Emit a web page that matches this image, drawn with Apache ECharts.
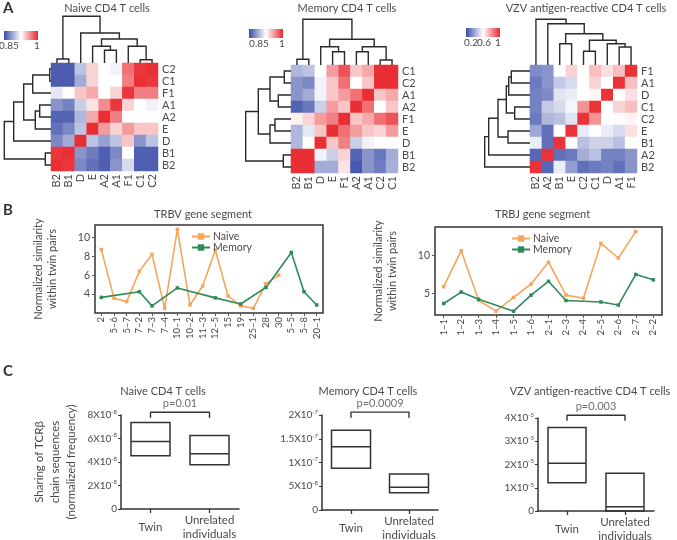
<!DOCTYPE html>
<html>
<head>
<meta charset="utf-8">
<script src="https://cdn.jsdelivr.net/npm/echarts@6/dist/echarts.min.js"></script>
<style>html,body{margin:0;padding:0;background:#fff}#chart{width:677px;height:540px}</style>
</head>
<body>
<div id="chart"></div>
<script>
// ---------- A: correlation heatmaps ----------
var naiveCols = ['B2', 'B1', 'D', 'E', 'A2', 'A1', 'F1', 'C1', 'C2'];
var naiveRows = ['C2', 'C1', 'F1', 'A1', 'A2', 'E', 'D', 'B1', 'B2'];
var naiveValues = [
    [0.857, 0.857, 0.900, 0.940, 0.925, 0.920, 0.975, 0.995, 0.998],
    [0.857, 0.857, 0.890, 0.940, 0.925, 0.925, 0.970, 0.998, 0.995],
    [0.915, 0.925, 0.945, 0.955, 0.925, 0.940, 0.995, 0.970, 0.970],
    [0.880, 0.872, 0.905, 0.935, 0.965, 0.995, 0.940, 0.925, 0.920],
    [0.860, 0.860, 0.895, 0.955, 0.998, 0.970, 0.925, 0.925, 0.925],
    [0.865, 0.875, 0.900, 0.998, 0.960, 0.940, 0.960, 0.945, 0.945],
    [0.875, 0.890, 0.998, 0.900, 0.885, 0.900, 0.945, 0.880, 0.900],
    [0.995, 0.998, 0.880, 0.870, 0.858, 0.875, 0.925, 0.858, 0.858],
    [0.998, 0.995, 0.875, 0.865, 0.858, 0.880, 0.910, 0.858, 0.858]
];
// merges: [childA, childB, height]; children >= 9 are earlier merges
var naiveColTree = [[0, 1, 4], [7, 8, 3.3], [4, 5, 12.7], [3, 11, 16.7], [6, 10, 16.7], [12, 13, 24], [2, 14, 30], [9, 15, 46.7]];
var naiveRowTree = [[0, 1, 1.3], [9, 2, 18.3], [3, 4, 11.3], [11, 5, 15.7], [10, 12, 27.3], [13, 6, 37.3], [7, 8, 5.7], [14, 15, 46.7]];

var memoryCols = ['B2', 'B1', 'D', 'E', 'F1', 'A2', 'A1', 'C2', 'C1'];
var memoryRows = ['C1', 'C2', 'A1', 'A2', 'F1', 'E', 'D', 'B1', 'B2'];
var memoryValues = [
    [0.895, 0.900, 0.925, 0.960, 0.985, 0.945, 0.955, 0.998, 0.998],
    [0.880, 0.875, 0.920, 0.945, 0.975, 0.925, 0.945, 0.998, 0.998],
    [0.880, 0.890, 0.920, 0.945, 0.960, 0.975, 0.998, 0.945, 0.955],
    [0.860, 0.868, 0.905, 0.960, 0.945, 0.998, 0.975, 0.925, 0.945],
    [0.930, 0.940, 0.960, 0.970, 0.998, 0.945, 0.955, 0.975, 0.985],
    [0.895, 0.915, 0.945, 0.998, 0.975, 0.960, 0.945, 0.940, 0.960],
    [0.895, 0.925, 0.998, 0.945, 0.970, 0.905, 0.920, 0.925, 0.925],
    [0.998, 0.998, 0.920, 0.905, 0.940, 0.860, 0.880, 0.868, 0.890],
    [0.998, 0.998, 0.890, 0.890, 0.935, 0.855, 0.880, 0.870, 0.892]
];
var memoryColTree = [[0, 1, 5.7], [3, 4, 13.3], [2, 10, 18.3], [5, 6, 13.3], [7, 8, 5], [12, 13, 18.3], [11, 14, 25.7], [9, 15, 45.7]];
var memoryRowTree = [[0, 1, 6.7], [2, 3, 12.7], [9, 10, 21], [4, 5, 16], [12, 6, 21], [11, 13, 32.7], [7, 8, 7.7], [14, 15, 45.3]];

var vzvCols = ['B2', 'A2', 'B1', 'E', 'C2', 'C1', 'D', 'A1', 'F1'];
var vzvRows = ['F1', 'A1', 'D', 'C1', 'C2', 'E', 'B1', 'A2', 'B2'];
var vzvValues = [
    [0.34, 0.36, 0.60, 0.68, 0.60, 0.72, 0.66, 0.72, 0.98],
    [0.30, 0.36, 0.48, 0.52, 0.60, 0.68, 0.60, 0.98, 0.72],
    [0.32, 0.34, 0.54, 0.56, 0.60, 0.62, 0.98, 0.60, 0.66],
    [0.32, 0.48, 0.52, 0.58, 0.80, 0.98, 0.60, 0.68, 0.72],
    [0.30, 0.44, 0.46, 0.54, 0.98, 0.80, 0.60, 0.61, 0.62],
    [0.40, 0.28, 0.60, 0.98, 0.56, 0.60, 0.56, 0.52, 0.66],
    [0.56, 0.28, 0.98, 0.60, 0.46, 0.50, 0.50, 0.46, 0.60],
    [0.26, 0.98, 0.28, 0.30, 0.42, 0.46, 0.32, 0.32, 0.36],
    [0.98, 0.26, 0.56, 0.38, 0.28, 0.30, 0.32, 0.28, 0.36]
];
var vzvColTree = [[2, 3, 21.3], [4, 5, 13.7], [7, 8, 18], [6, 11, 21.3], [10, 12, 24.7], [9, 13, 31.3], [1, 14, 41.3], [0, 15, 45.7]];
var vzvRowTree = [[0, 1, 18.7], [9, 2, 21.3], [3, 4, 15.3], [10, 11, 23.7], [5, 6, 22], [12, 13, 32], [14, 7, 41.3], [15, 8, 45.3]];

// ---------- B: similarity by gene segment ----------
var trbvGenes = ['2', '5–6', '5–7', '7–2', '7–3', '7–4', '10–1', '10–2', '11–3', '12–5', '15', '19', '25–1', '28', '30', '5–5', '5–8', '20–1'];
var trbvNaive = [8.7, 3.55, 3.2, 6.4, 8.2, 2.5, 10.85, 2.85, 4.85, 8.65, 3.8, 2.75, 2.5, 5.1, 6.0, null, null, null];
var trbvMemory = [3.65, null, null, 4.25, 2.75, null, 4.65, null, null, 3.6, null, 2.95, null, 4.7, null, 8.4, 4.25, 2.85];
var trbvTicks = [4, 6, 8, 10];

var trbjGenes = ['1–1', '1–2', '1–3', '1–4', '1–5', '1–6', '2–1', '2–3', '2–4', '2–5', '2–6', '2–7', '2–2'];
var trbjNaive = [5.9, 10.6, 4.1, 2.7, 4.5, 6.25, 9.1, 4.8, 4.4, 11.55, 9.65, 13.1, null];
var trbjMemory = [3.7, 5.2, 4.25, null, 2.7, 4.8, 6.6, 4.1, null, 3.9, 3.5, 7.5, 6.8];
var trbjTicks = [5, 10];

// ---------- C: TCRb sharing, [q1, median, q3] ----------
var boxGroups = ['Twin', 'Unrelated\nindividuals'];
var naiveShare = [[4.54e-8, 5.75e-8, 7.37e-8], [3.77e-8, 4.7e-8, 6.26e-8]];
var memoryShare = [[0.88e-7, 1.33e-7, 1.68e-7], [0.365e-7, 0.48e-7, 0.76e-7]];
var vzvShare = [[1.22e-5, 2.05e-5, 3.59e-5], [0, 0.18e-5, 1.62e-5]];
var pValues = ['p=0.01', 'p=0.0009', 'p=0.003'];

var FONT = 'Lato, "Open Sans", sans-serif';
var TXT = '#4a4a4a';
var BLUE = '#3a4ca8', RED = '#e8282e';
var ORANGE = '#f5a65b', GREEN = '#2f8a5a';

var grids = [], xAxes = [], yAxes = [], series = [], visualMaps = [], legends = [], graphics = [];

function addGrid(g) {
    g.outerBoundsMode = 'none';
    g.containLabel = false;
    grids.push(g);
    return grids.length - 1;
}

function treeLinks(tree, n) {
    var pos = [], h = [];
    for (var i = 0; i < n; i++) { pos.push(i); h.push(0); }
    return tree.map(function(m) {
        var a = m[0], b = m[1];
        var link = [pos[a], h[a], pos[b], h[b], m[2]];
        pos.push((pos[a] + pos[b]) / 2);
        h.push(m[2]);
        return link;
    });
}

function dendro(tree, n, rect, side) {
    var gi = addGrid(rect);
    var top = side === 'top';
    var xi = xAxes.push({gridIndex: gi, type: 'value', show: false,
        min: top ? -0.5 : 0, max: top ? n - 0.5 : 47, inverse: !top}) - 1;
    var yi = yAxes.push({gridIndex: gi, type: 'value', show: false,
        min: top ? 0 : -0.5, max: top ? 47 : n - 0.5, inverse: !top}) - 1;
    series.push({
        type: 'custom', coordinateSystem: 'cartesian2d', xAxisIndex: xi, yAxisIndex: yi,
        silent: true, clip: false,
        data: treeLinks(tree, n),
        renderItem: function(params, api) {
            var p = function(pos, h) { return top ? api.coord([pos, h]) : api.coord([h, pos]); };
            var hm = api.value(4);
            return {
                type: 'polyline',
                shape: {points: [p(api.value(0), api.value(1)), p(api.value(0), hm), p(api.value(2), hm), p(api.value(2), api.value(3))]},
                style: {stroke: '#2b2b2b', lineWidth: 1.4, fill: null}
            };
        }
    });
}

function heatPanel(cfg) {
    var gi = addGrid({left: cfg.left, top: cfg.top, width: 107, height: 108});
    var xi = xAxes.push({gridIndex: gi, type: 'category', data: cfg.cols, position: 'bottom',
        axisLine: {show: false}, axisTick: {show: false}, splitLine: {show: false},
        axisLabel: {rotate: 90, margin: 3, fontSize: 11, color: TXT, interval: 0}}) - 1;
    var yi = yAxes.push({gridIndex: gi, type: 'category', data: cfg.rows, inverse: true, position: 'right',
        axisLine: {show: false}, axisTick: {show: false}, splitLine: {show: false},
        axisLabel: {margin: 4, fontSize: 11, color: TXT, interval: 0}}) - 1;
    var data = [];
    cfg.values.forEach(function(row, r) {
        row.forEach(function(v, c) { data.push([c, r, v]); });
    });
    var si = series.push({type: 'heatmap', xAxisIndex: xi, yAxisIndex: yi, data: data, silent: true}) - 1;
    visualMaps.push({show: false, seriesIndex: si, dimension: 2, min: cfg.min, max: cfg.max,
        inRange: {color: [BLUE, '#ffffff', RED]}});
    dendro(cfg.colTree, cfg.cols.length, {left: cfg.left, top: cfg.top - 47, width: 107, height: 47}, 'top');
    dendro(cfg.rowTree, cfg.rows.length, {left: cfg.left - 47, top: cfg.top, width: 47, height: 108}, 'left');

    graphics.push({type: 'text', x: cfg.left + 56, y: 8, style: {text: cfg.title, align: 'center',
        verticalAlign: 'middle', font: '11px ' + FONT, fill: TXT}});
    var bar = cfg.bar;
    graphics.push({type: 'rect', shape: {x: bar[0], y: bar[1], width: 34, height: 9},
        style: {fill: new echarts.graphic.LinearGradient(0, 0, 1, 0, [
            {offset: 0, color: BLUE}, {offset: 0.5, color: '#ffffff'}, {offset: 1, color: RED}])}});
    cfg.barLabels.forEach(function(t) {
        graphics.push({type: 'text', x: t[1], y: bar[1] + 15, style: {text: t[0], align: 'center',
            verticalAlign: 'middle', font: '10px ' + FONT, fill: TXT}});
    });
}

heatPanel({title: 'Naive CD4 T cells', left: 51, top: 63, cols: naiveCols, rows: naiveRows, values: naiveValues,
    colTree: naiveColTree, rowTree: naiveRowTree, min: 0.85, max: 1,
    bar: [4, 31], barLabels: [['0.85', 9], ['1', 37]]});
heatPanel({title: 'Memory CD4 T cells', left: 291, top: 65, cols: memoryCols, rows: memoryRows, values: memoryValues,
    colTree: memoryColTree, rowTree: memoryRowTree, min: 0.85, max: 1,
    bar: [249, 29], barLabels: [['0.85', 259], ['1', 282]]});
heatPanel({title: 'VZV antigen-reactive CD4 T cells', left: 530, top: 65, cols: vzvCols, rows: vzvRows, values: vzvValues,
    colTree: vzvColTree, rowTree: vzvRowTree, min: 0.2, max: 1,
    bar: [466, 28], barLabels: [['0.2', 471], ['0.6', 484], ['1', 498]]});

function linePanel(cfg) {
    var gi = addGrid({left: cfg.left, top: cfg.top, width: cfg.width, height: 88, show: true,
        borderColor: '#333', borderWidth: 1.5, backgroundColor: 'rgba(0,0,0,0)'});
    var xi = xAxes.push({gridIndex: gi, type: 'category', data: cfg.genes, boundaryGap: true,
        axisLine: {show: false}, splitLine: {show: false},
        axisTick: {show: true, alignWithLabel: true, length: 3, lineStyle: {color: '#555'}},
        axisLabel: {rotate: 90, margin: 4, fontSize: 9.5, color: TXT, interval: 0}}) - 1;
    var yi = yAxes.push({gridIndex: gi, type: 'value', min: cfg.min, max: cfg.max,
        axisLine: {show: false}, splitLine: {show: false},
        axisTick: {show: true, length: 3, customValues: cfg.ticks, lineStyle: {color: '#555'}},
        axisLabel: {customValues: cfg.ticks, fontSize: 10.5, color: TXT, margin: 5},
        name: 'Normalized similarity\nwithin twin pairs', nameLocation: 'middle', nameRotate: 90, nameGap: 36,
        nameTextStyle: {fontSize: 11, color: TXT, lineHeight: 14}}) - 1;
    [['Naive', cfg.naive, ORANGE], ['Memory', cfg.memory, GREEN]].forEach(function(s) {
        series.push({type: 'line', name: s[0], xAxisIndex: xi, yAxisIndex: yi, data: s[1], connectNulls: true,
            symbol: 'rect', symbolSize: 3.5, color: s[2], lineStyle: {width: 1.6, color: s[2]},
            itemStyle: {color: s[2]}, silent: true});
    });
    legends.push({left: cfg.legendLeft, top: cfg.top + 1, orient: 'vertical', itemGap: 0, itemWidth: 18, itemHeight: 8,
        data: ['Naive', 'Memory'], textStyle: {fontSize: 10.5, color: TXT, padding: [0, 0, 0, -2]},
        selectedMode: false});
    graphics.push({type: 'text', x: cfg.left + cfg.width / 2 - 6, y: 214, style: {text: cfg.title, align: 'center',
        verticalAlign: 'middle', font: '11px ' + FONT, fill: TXT}});
}

linePanel({title: 'TRBV gene segment', left: 95, top: 225, width: 228, genes: trbvGenes, naive: trbvNaive,
    memory: trbvMemory, min: 2, max: 11.3, ticks: trbvTicks, legendLeft: 186});
linePanel({title: 'TRBJ gene segment', left: 435, top: 227, width: 227, genes: trbjGenes, naive: trbjNaive,
    memory: trbjMemory, min: 2.2, max: 13.7, ticks: trbjTicks, legendLeft: 506});

function sciLabel(v) {
    if (v === 0) return '0';
    var e = Math.floor(Math.log10(v) + 1e-9);
    var m = Math.round(v / Math.pow(10, e) * 10) / 10;
    return '{m|' + m + 'X10}{e|' + e + '}';
}

function boxPanel(cfg, idx) {
    var gi = addGrid({left: cfg.left, top: cfg.top, width: cfg.width, height: cfg.height});
    var xi = xAxes.push({gridIndex: gi, type: 'category', data: boxGroups, boundaryGap: true,
        axisLine: {show: true, onZero: false, lineStyle: {color: '#333', width: 1.5}}, splitLine: {show: false},
        axisTick: {show: true, alignWithLabel: true, length: 4, lineStyle: {color: '#333', width: 1.3}},
        axisLabel: {fontSize: 11.5, color: TXT, margin: 18, verticalAlign: 'middle', lineHeight: 14, interval: 0}}) - 1;
    var xv = xAxes.push({gridIndex: gi, type: 'value', min: -0.5, max: 1.5, show: false}) - 1;
    var yi = yAxes.push({gridIndex: gi, type: 'value', min: 0, max: cfg.max, interval: cfg.max / 4,
        axisLine: {show: true, onZero: false, lineStyle: {color: '#333', width: 1.5}}, splitLine: {show: false},
        axisTick: {show: true, length: 3, lineStyle: {color: '#333'}},
        axisLabel: {formatter: sciLabel, color: TXT, fontSize: 10, margin: 4,
            rich: {m: {fontSize: 10, color: TXT, lineHeight: 12},
                   e: {fontSize: 6, color: TXT, lineHeight: 6, verticalAlign: 'top'}}},
        name: idx === 0 ? 'Sharing of TCRβ\nchain sequences\n(normalized frequency)' : '',
        nameLocation: 'middle', nameRotate: 90, nameGap: 42,
        nameTextStyle: {fontSize: 11.5, color: TXT, lineHeight: 16}}) - 1;
    series.push({type: 'boxplot', xAxisIndex: xi, yAxisIndex: yi, silent: true, boxWidth: [cfg.boxW, cfg.boxW],
        data: cfg.values.map(function(q) { return [q[0], q[0], q[1], q[2], q[2]]; }),
        itemStyle: {color: 'rgba(0,0,0,0)', borderColor: '#333', borderWidth: 1.5}});
    var hi = cfg.max * 1.03, lo = cfg.max * 0.97;
    series.push({type: 'line', xAxisIndex: xv, yAxisIndex: yi, silent: true, clip: false, symbol: 'none',
        data: [[0, lo], [0, hi], [1, hi], [1, lo]], lineStyle: {color: '#333', width: 1.4}});
    series.push({type: 'scatter', xAxisIndex: xv, yAxisIndex: yi, silent: true, clip: false, symbolSize: 0,
        data: [[0.5, hi]], label: {show: true, position: 'top', distance: 3, formatter: pValues[idx],
            fontSize: 11, color: TXT}});
    graphics.push({type: 'text', x: cfg.titleX, y: 391, style: {text: cfg.title, align: 'center',
        verticalAlign: 'middle', font: '11px ' + FONT, fill: TXT}});
}

boxPanel({title: 'Naive CD4 T cells', titleX: 163, left: 121, top: 415, width: 118, height: 94, max: 8e-8,
    values: naiveShare, boxW: 39}, 0);
boxPanel({title: 'Memory CD4 T cells', titleX: 368, left: 322, top: 415, width: 116, height: 95, max: 2e-7,
    values: memoryShare, boxW: 39}, 1);
boxPanel({title: 'VZV antigen-reactive CD4 T cells', titleX: 590, left: 538, top: 418, width: 116, height: 93, max: 4e-5,
    values: vzvShare, boxW: 38}, 2);

[['A', 3, 8], ['B', 3, 210], ['C', 3, 371]].forEach(function(l) {
    graphics.push({type: 'text', x: l[1], y: l[2], style: {text: l[0], verticalAlign: 'middle',
        font: 'bold 15px ' + FONT, fill: '#333'}});
});

var chart = echarts.init(document.getElementById('chart'), null, {renderer: 'canvas'});
chart.setOption({
    animation: false,
    backgroundColor: '#fff',
    textStyle: {fontFamily: FONT},
    grid: grids,
    xAxis: xAxes,
    yAxis: yAxes,
    visualMap: visualMaps,
    legend: legends,
    series: series,
    graphic: graphics
});
</script>
</body>
</html>
